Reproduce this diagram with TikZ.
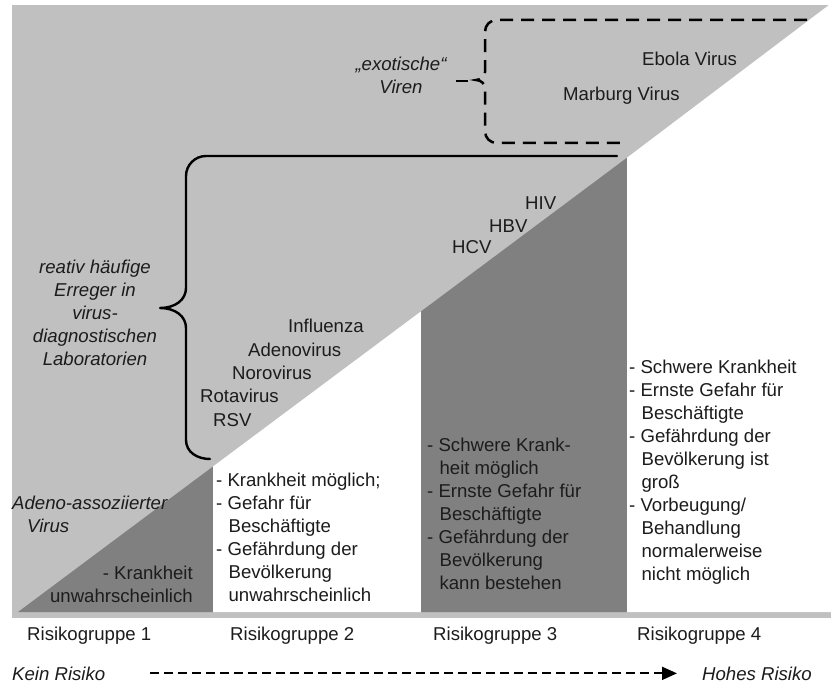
\documentclass[tikz,border=0pt]{standalone}
\usepackage{fontspec}
\setmainfont{Liberation Sans}
\usetikzlibrary{arrows.meta,calc}
\definecolor{lightg}{RGB}{192,192,192}
\definecolor{darkg}{RGB}{128,128,128}
\definecolor{ink}{RGB}{28,28,28}
\newcommand{\mylines}[2]{\begin{tabular}[t]{@{}#1@{}}#2\end{tabular}}
\newcommand{\ind}{\hphantom{-\,}\,}
\tikzset{
  txt/.style={inner sep=0pt, text=ink, font=\fontsize{18.6}{23}\selectfont},
  itxt/.style={txt, font=\fontsize{18.6}{23}\selectfont\itshape},
  bracepath/.style={line width=2.4pt, draw=black, line cap=round, line join=round},
  dashbrace/.style={line width=2.5pt, draw=black, dash pattern=on 13pt off 8pt},
  riskarrow/.style={line width=1.8pt, draw=black, dash pattern=on 9pt off 5pt,
    -{Triangle[length=15pt,width=13pt]}},
}
\begin{document}
\begin{tikzpicture}[x=1pt,y=-1pt]
\useasboundingbox (0,0) rectangle (832,684);
\fill[white] (0,0) rectangle (832,684);
% background areas
\fill[lightg] (12,5) rectangle (831,618);
\fill[darkg] (18,612) -- (213,466.5) -- (213,612) -- cycle;
\fill[white] (213,466.5) -- (421,311.4) -- (421,612) -- (213,612) -- cycle;
\fill[darkg] (421,311.4) -- (627,157.7) -- (627,612) -- (421,612) -- cycle;
\fill[white] (627,157.7) -- (829,5) -- (831,5) -- (831,612) -- (627,612) -- cycle;

% dashed brace (exotic viruses)
\draw[dashbrace] (807,20) -- (497,20) .. controls (490,20) and (485,25) .. (485,32)
  -- (485,72) .. controls (485,76) and (481,80) .. (476,80)
  .. controls (481,80) and (485,84) .. (485,88)
  -- (485,131) .. controls (485,138) and (490,143) .. (497,143) -- (625,143);
\draw[line width=2.5pt] (456,81) -- (468,81);

% solid brace
\draw[bracepath] (617,156) -- (206,156) .. controls (195,156) and (186,165) .. (186,176)
  -- (186,288) .. controls (186,300) and (175,308) .. (160,308)
  .. controls (175,308) and (186,316) .. (186,328)
  -- (186,440) .. controls (186,452) and (197,459) .. (210,459);

% labels
\node[itxt, anchor=base] (exot) at (401,71) {\mylines{c}{„exotische“\\Viren}};
\node[txt, anchor=base west] (ebola) at (642,66) {Ebola Virus};
\node[txt, anchor=base west] (marburg) at (563,101) {Marburg Virus};
\node[txt, anchor=base west] (hiv) at (525,210) {HIV};
\node[txt, anchor=base west] (hbv) at (489,233) {HBV};
\node[txt, anchor=base west] (hcv) at (452,254) {HCV};
\node[itxt, anchor=base] (haeufig) at (95,274) {\mylines{c}{reativ häufige\\Erreger in\\virus-\\diagnostischen\\Laboratorien}};
\node[txt, anchor=base west] (influenza) at (288,333) {Influenza};
\node[txt, anchor=base west] (adeno) at (248,356) {Adenovirus};
\node[txt, anchor=base west] (noro) at (232,379) {Norovirus};
\node[txt, anchor=base west] (rota) at (200,402) {Rotavirus};
\node[txt, anchor=base west] (rsv) at (213,426) {RSV};
\node[itxt, anchor=base west] (aav) at (12,509) {\mylines{l}{Adeno-assoziierter\\\hspace*{15pt}Virus}};

% risk group descriptions
\node[txt, anchor=base east] (d1) at (193,579) {\mylines{r}{- Krankheit\\unwahrscheinlich}};
\node[txt, anchor=base west] (d2) at (216,486) {\mylines{l}{- Krankheit möglich;\\- Gefahr für\\\ind Beschäftigte\\- Gefährdung der\\\ind Bevölkerung\\\ind unwahrscheinlich}};
\node[txt, anchor=base west] (d3) at (427,451) {\mylines{l}{- Schwere Krank-\\\ind heit möglich\\- Ernste Gefahr für\\\ind Beschäftigte\\- Gefährdung der\\\ind Bevölkerung\\\ind kann bestehen}};
\node[txt, anchor=base west] (d4) at (629,373) {\mylines{l}{- Schwere Krankheit\\- Ernste Gefahr für\\\ind Beschäftigte\\- Gefährdung der\\\ind Bevölkerung ist\\\ind groß\\- Vorbeugung/\\\ind Behandlung\\\ind normalerweise\\\ind nicht möglich}};

% group labels
\node[txt, anchor=base west] (rg1) at (27,640) {Risikogruppe 1};
\node[txt, anchor=base west] (rg2) at (230,640) {Risikogruppe 2};
\node[txt, anchor=base west] (rg3) at (433,640) {Risikogruppe 3};
\node[txt, anchor=base west] (rg4) at (637,640) {Risikogruppe 4};

% risk axis
\node[itxt, anchor=base west] (kein) at (12,680) {Kein Risiko};
\node[itxt, anchor=base west] (hohes) at (702,680) {Hohes Risiko};
\draw[riskarrow, shorten <=45pt, shorten >=25pt] (kein.east) -- (hohes.west);
\end{tikzpicture}
\end{document}
